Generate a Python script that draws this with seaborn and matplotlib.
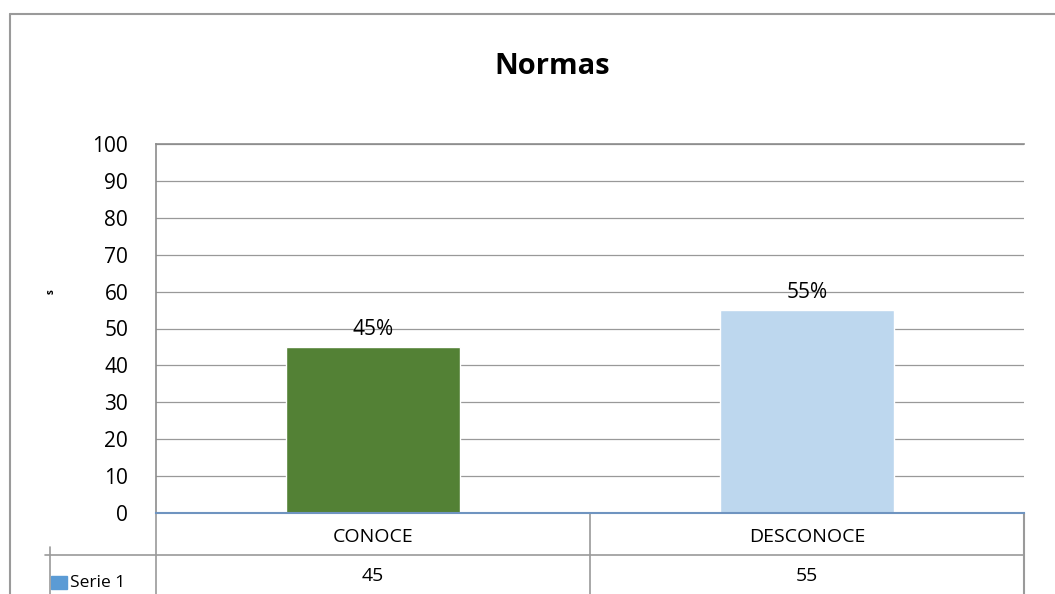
import matplotlib
matplotlib.use("Agg")
import matplotlib.pyplot as plt
import seaborn as sns
from matplotlib.lines import Line2D
from matplotlib.patches import Rectangle

# data
categories = ["CONOCE", "DESCONOCE"]
values = [45, 55]
bar_labels = ["45%", "55%"]
bar_colors = ["#538135", "#BDD7EE"]
series_name = "Serie 1"
y_ticks = list(range(0, 101, 10))

sns.set_style("white")
plt.rcParams["font.family"] = ["Open Sans", "DejaVu Sans"]
plt.rcParams["text.color"] = "black"
plt.rcParams["ytick.color"] = "black"

W, H = 1055, 594
fig = plt.figure(figsize=(W / 100, H / 100), dpi=100)
ax = fig.add_axes([156 / W, 1 - 513 / H, (1024 - 156) / W, (513 - 144) / H])

sns.barplot(x=categories, y=values, hue=categories, palette=bar_colors,
            width=0.4, legend=False, ax=ax, saturation=1)

ax.set_ylim(0, 100)
ax.set_xlim(-0.5, 1.5)
ax.set_yticks(y_ticks)
ax.set_yticklabels([str(t) for t in y_ticks], fontsize=15)
ax.set_xticks([])
ax.grid(axis="y", color="#999999", linewidth=0.9)
ax.set_axisbelow(True)
for s in ["top", "left"]:
    ax.spines[s].set_color("#8c8c8c")
    ax.spines[s].set_linewidth(1.2)
ax.spines["right"].set_visible(False)
ax.spines["bottom"].set_color("#6f94c0")
ax.spines["bottom"].set_linewidth(1.5)
ax.spines["bottom"].set_zorder(5)
ax.tick_params(axis="y", length=0, pad=20)
ax.set_xlabel("")
ax.set_ylabel("s", fontsize=7, fontweight="bold", color="black")
ax.yaxis.set_label_coords(-(156 - 57) / 868, 0.6)

# value labels above bars
for i, (v, lab) in enumerate(zip(values, bar_labels)):
    ax.text(i, v + 2, lab, ha="center", va="bottom", fontsize=15)

fig.text(552 / W, 1 - 66 / H, "Normas", fontsize=21, fontweight="bold",
         ha="center", va="center")

# data table below the plot
grey = "#9a9a9a"
trans = ax.get_xaxis_transform()
ax.add_line(Line2D([1.5, 1.5], [0, -0.25], transform=trans, color=grey, lw=1.5, clip_on=False))
ax.add_line(Line2D([0.5, 0.5], [0, -0.25], transform=trans, color=grey, lw=1.2, clip_on=False))
ax.add_line(Line2D([-0.5, -0.5], [0, -0.25], transform=trans, color=grey, lw=1.2, clip_on=False))
fig.add_artist(Line2D([45 / W, 1024 / W], [1 - 555 / H, 1 - 555 / H], color=grey, lw=1.2))
fig.add_artist(Line2D([50 / W, 50 / W], [1 - 547 / H, 0], color=grey, lw=1.2))
for i, (cat, v) in enumerate(zip(categories, values)):
    ax.text(i, -0.065, cat, transform=trans, ha="center", va="center", fontsize=14)
    ax.text(i, -0.17, str(v), transform=trans, ha="center", va="center", fontsize=14)

# legend key for the series row
fig.add_artist(Rectangle((51 / W, 1 - 589 / H), 16 / W, 13 / H, color="#5B9BD5"))
fig.text(70 / W, 1 - 583 / H, series_name, fontsize=12.5, va="center", ha="left")

# chart outer border
fig.add_artist(Line2D([10 / W, 1], [1 - 14 / H, 1 - 14 / H], color=grey, lw=1.5))
fig.add_artist(Line2D([10 / W, 10 / W], [1 - 14 / H, 0], color=grey, lw=1.5))

fig.savefig("out.png", dpi=100)
